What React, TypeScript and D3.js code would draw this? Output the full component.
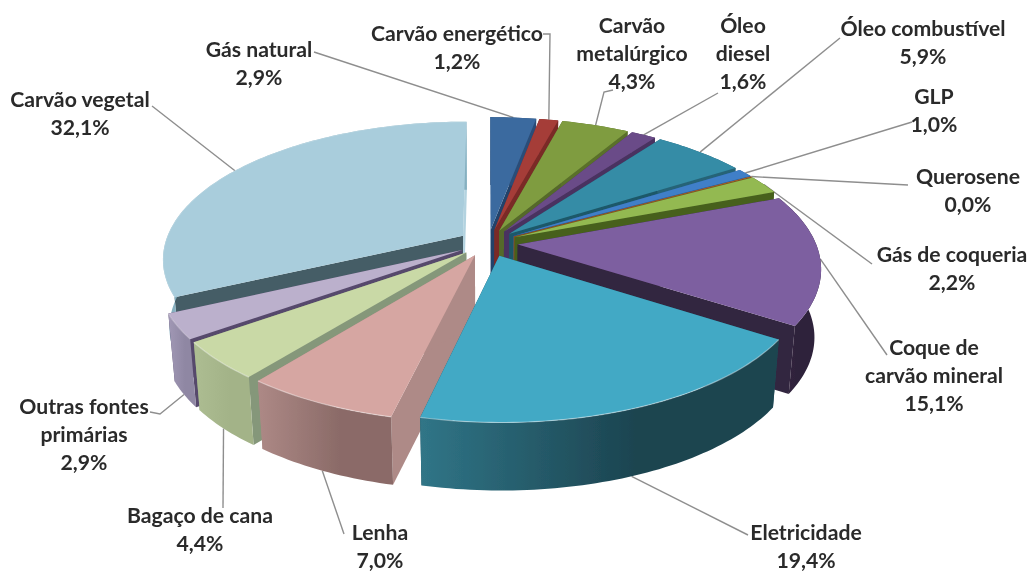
import React from "react";
import * as d3 from "d3";

const categories = ["Gás natural","Carvão energético","Carvão metalúrgico","Óleo diesel","Óleo combustível","GLP","Querosene","Gás de coqueria","Coque de carvão mineral","Eletricidade","Lenha","Bagaço de cana","Outras fontes primárias","Carvão vegetal"];
const shares = [2.9,1.2,4.3,1.6,5.9,1.0,0.04,2.2,15.1,19.4,7.0,4.4,2.9,32.1];

const topColors = ["#3b6a9f","#a53c39","#7f9c40","#6b4c88","#358ca6","#3f7fc8","#d07a30","#93b951","#7d5fa0","#43a9c5","#d6a6a2","#c9d9a6","#bbb0cc","#a9cddc"];
const wallLeft = ["#2b4e78","#7a2a28","#5a7029","#4a3360","#256477","#2a5a90","#8a5020","#46601f","#33253f","#307587","#ad8986","#adbd92","#a198b5","#86b0c0"];
const wallRight = ["#2b4e78","#7a2a28","#5a7029","#4a3360","#256477","#2a5a90","#8a5020","#46601f","#2e213a","#1c4450","#8b6b68","#a3b388","#8f87a3","#86b0c0"];
const startEdgeColors = ["#2f5a8c","#7a2a28","#55692a","#4a3360","#1f5869","#2a5a90","#8a5020","#46601f","#33253f","#1f4f5c","#ae8a87","#85977a","#574a6c","#455d66"];
const endEdgeColors = ["#24436a","#7a2a28","#55692a","#4a3360","#1f5869","#2a5a90","#8a5020","#46601f","#33253f","#1f4f5c","#ae8a87","#85977a","#574a6c","#b3d3e0"];
const rimLight = [0,0,0,0,0,0,0,0,0,0.4,0.4,0.4,0.3,0.2];

// paint order, back to front
const paintOrder = [13,0,1,2,3,4,5,6,7,8,12,11,10,9];

const labelLines = [["Gás natural"],["Carvão energético"],["Carvão","metalúrgico"],["Óleo","diesel"],["Óleo combustível"],["GLP"],["Querosene"],["Gás de coqueria"],["Coque de","carvão mineral"],["Eletricidade"],["Lenha"],["Bagaço de cana"],["Outras fontes","primárias"],["Carvão vegetal"]];
const labelCentreX = [259,457,632,743,923,934,968,952,934,806,380,200,84,80];
const labelFirstY = [50,34,26,26,29,97,177,255,348,533,533,516,407,100];
const leaderBends: number[][][] = [[[314,52]],[[550,34],[543,34]],[[604,92],[613,90]],[[718,93]],[[840,38]],[[912,122]],[[908,185]],[[872,264]],[[887,355]],[[748,535]],[[344,534]],[[223,508]],[[160,414],[150,412]],[[152,106]]];
const leaderFromBase = [0,0,0,0,0,0,0,0,0,1,1,1,1,0];

const W = 1032, H = 573;
const cx = 488, cy = 243, Rx = 298, Ry = 135, persp = 0.163, explode = 0.1, depth = 68, baseShrink = 0.98;
const sx = d3.scaleLinear().domain([-1, 1]).range([-Rx, Rx]);
const sy = d3.scaleLinear().domain([-1, 1]).range([-Ry, Ry]);

type P = [number, number];
const project = (u: number, v: number): P => {
  const s = 1 / (1 - persp * v);
  return [cx + sx(u) * s, cy + sy(v) * s];
};
const lower = ([x, y]: P): P => [cx + (x - cx) * baseShrink, y + depth];
const line = d3.line<P>().x(d => d[0]).y(d => d[1]);
const closed = (pts: P[]) => line(pts) + "Z";

const arcs = d3.pie<number>().sort(null).value(d => d)(shares);

const geom = arcs.map(a => {
  const mid = (a.startAngle + a.endAngle) / 2;
  const ou = Math.sin(mid) * explode, ov = -Math.cos(mid) * explode;
  const at = (ang: number, r = 1): P => project(ou + Math.sin(ang) * r, ov - Math.cos(ang) * r);
  const n = Math.max(2, Math.ceil((a.endAngle - a.startAngle) / 0.02));
  const rim: P[] = d3.range(n + 1).map(i => at(a.startAngle + (a.endAngle - a.startAngle) * i / n));
  const apex = at(0, 0);
  return { apex, rim, anchor: at(mid) };
});

export default function App() {
  return (
    <svg width={W} height={H} viewBox={`0 0 ${W} ${H}`} style={{ position: "absolute", left: 0, top: 0, background: "#fff" }}>
      <defs>
        <filter id="soft" x="-5%" y="-5%" width="110%" height="110%"><feGaussianBlur stdDeviation="0.45" /></filter>
        {categories.map((_, i) => (
          <linearGradient key={i} id={`wall${i}`} x1="0" x2="1" y1="0" y2="0">
            <stop offset="0" stopColor={wallLeft[i]} />
            <stop offset="0.6" stopColor={wallRight[i]} />
          </linearGradient>
        ))}
      </defs>
      <g filter="url(#soft)">
        <g fill="none" stroke="#8e8e8e" strokeWidth={1.4}>
          {geom.map((g, i) => {
            const start = leaderFromBase[i] ? lower(g.anchor) : g.anchor;
            return <path key={i} d={line([start, ...(leaderBends[i] as P[])]) as string} />;
          })}
        </g>
        {paintOrder.map(i => {
          const g = geom[i];
          const rimLow = g.rim.map(lower);
          const first = g.rim[0], last = g.rim[g.rim.length - 1];
          return (
            <g key={i}>
              <path d={closed([g.apex, first, lower(first), lower(g.apex)])} fill={startEdgeColors[i]} />
              <path d={closed([g.apex, last, lower(last), lower(g.apex)])} fill={endEdgeColors[i]} />
              <path d={closed([...g.rim, ...rimLow.slice().reverse()])} fill={`url(#wall${i})`} />
              <path d={closed([g.apex, ...g.rim])} fill={topColors[i]} />
              <path d={line(g.rim) as string} fill="none" stroke="#fff" strokeOpacity={rimLight[i]} strokeWidth={1.2} />
            </g>
          );
        })}
        <g fontFamily="Lato, sans-serif" fontWeight={700} fontSize={21.2} fill="#2b2b2b" textAnchor="middle">
          {categories.map((_, i) => {
            const rows = [...labelLines[i], shares[i].toFixed(1).replace(".", ",") + "%"];
            return (
              <text key={i} x={labelCentreX[i]} y={labelFirstY[i] + 7}>
                {rows.map((r, k) => <tspan key={k} x={labelCentreX[i]} dy={k ? 28 : 0}>{r}</tspan>)}
              </text>
            );
          })}
        </g>
      </g>
    </svg>
  );
}
